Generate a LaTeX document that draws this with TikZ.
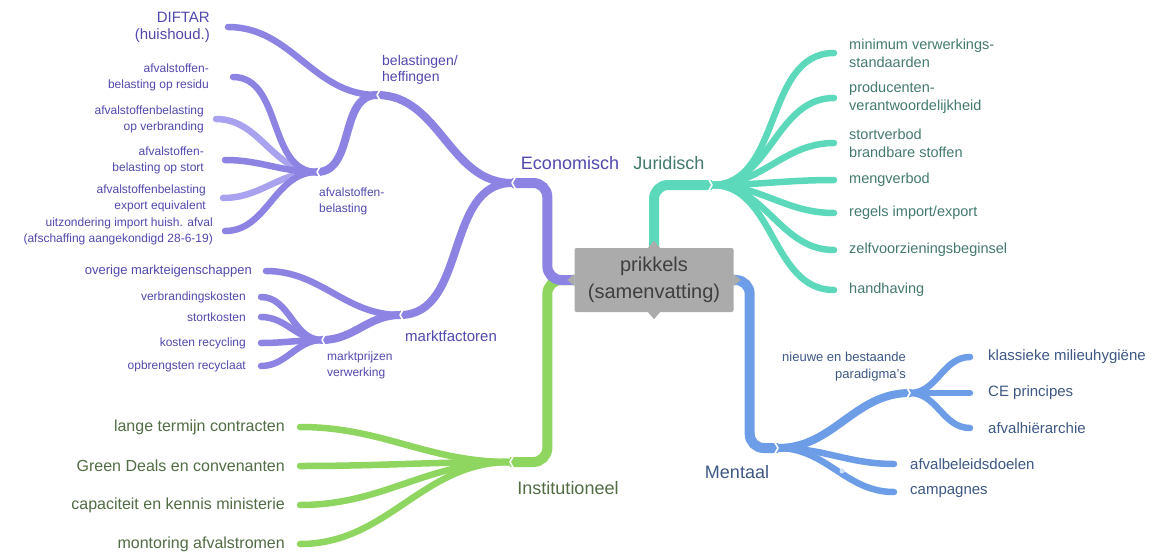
\documentclass[tikz,border=0pt]{standalone}
\usepackage{fontspec}
\setmainfont{Liberation Sans}
\usetikzlibrary{positioning}
\definecolor{ecoline}{HTML}{8C83E3}
\definecolor{ecolight}{HTML}{A9A3EF}
\definecolor{ecotext}{HTML}{5249AE}
\definecolor{jurline}{HTML}{5CD8BA}
\definecolor{jurtext}{HTML}{437A70}
\definecolor{mentline}{HTML}{6E9DE7}
\definecolor{menttext}{HTML}{3E5884}
\definecolor{instline}{HTML}{8FD660}
\definecolor{insttext}{HTML}{526C44}
\definecolor{boxfill}{HTML}{ABABAB}
\definecolor{boxtext}{HTML}{3F3F3F}
\tikzset{
  trunk/.style={line width=10pt,line cap=butt,rounded corners=14pt},
  twig/.style={line width=8pt,line cap=round},
  leaf/.style={line width=6.5pt,line cap=round},
  notch/.style={white,line width=1.6pt,line cap=round,line join=round},
  lt/.style={inner sep=0pt,align=right},
  rt/.style={inner sep=0pt,align=left},
  fsbox/.style={font=\fontsize{20}{27}\selectfont},
  fsmain/.style={font=\fontsize{18}{21}\selectfont},
  fsmid/.style={font=\fontsize{14}{16}\selectfont},
  fssmall/.style={font=\fontsize{12}{16}\selectfont},
  fsdiftar/.style={font=\fontsize{15}{17}\selectfont},
  fsjur/.style={font=\fontsize{14.5}{18}\selectfont},
  fsinst/.style={font=\fontsize{16}{19}\selectfont},
  fsment/.style={font=\fontsize{15}{18}\selectfont},
  fspara/.style={font=\fontsize{13}{17}\selectfont}
}
\begin{document}
\begin{tikzpicture}[x=1pt,y=-1pt]
\useasboundingbox (0,0) rectangle (1156,554);
\fill[white] (0,0) rectangle (1156,554);

% centre
\node[fill=boxfill,text=boxtext,fsbox,align=center,inner sep=0pt,
  minimum width=159pt,minimum height=64pt,rounded corners=2pt] (prikkels) at (654,280) {prikkels\\(samenvatting)};

% junctions
\coordinate (econ) at (512,183);
\coordinate (jur) at (712,185);
\coordinate (ment) at (778,448);
\coordinate (inst) at (510,462);
\coordinate (belast) at (377,95);
\coordinate (markt) at (400,315);
\coordinate (afv) at (317,172);
\coordinate (mprijs) at (322,340);
\coordinate (para) at (910,393);

% leaf ends
\coordinate (c-diftar) at (228,27);
\coordinate (c-residu) at (233,77);
\coordinate (c-verbr) at (216,119);
\coordinate (c-stort) at (225,160);
\coordinate (c-export) at (223,198);
\coordinate (c-uitz) at (225,231);
\coordinate (c-overige) at (266,271);
\coordinate (c-vbk) at (261,297);
\coordinate (c-stk) at (261,317);
\coordinate (c-krec) at (261,343);
\coordinate (c-opbr) at (261,366);
\coordinate (c-lange) at (300,427);
\coordinate (c-green) at (300,466);
\coordinate (c-capac) at (300,505);
\coordinate (c-monit) at (300,544);
\coordinate (c-minimum) at (834,53);
\coordinate (c-produc) at (834,98);
\coordinate (c-stortv) at (834,143);
\coordinate (c-meng) at (834,180);
\coordinate (c-regels) at (834,213);
\coordinate (c-zelf) at (834,250);
\coordinate (c-handh) at (834,290);
\coordinate (c-klass) at (970,357);
\coordinate (c-ce) at (970,393);
\coordinate (c-hier) at (970,428);
\coordinate (c-beleid) at (894,464);
\coordinate (c-camp) at (894,492);

% trunks
\draw[trunk,instline] (prikkels.west) -- ++(-27,0) |- (inst);
\draw[trunk,ecoline] (prikkels.west) -- ++(-27,0) |- (econ);
\draw[trunk,jurline] (prikkels.north) |- (jur);
\draw[trunk,mentline] (prikkels.east) -- ++(16,0) |- (ment);

% economisch
\draw[twig,ecoline] (econ) to[out=180,in=0] (belast);
\draw[twig,ecoline] (econ) to[out=180,in=0] (markt);
\draw[twig,ecoline] (belast) to[out=180,in=0] (afv);
\draw[twig,ecoline] (markt) to[out=180,in=0] (mprijs);
\draw[leaf,ecoline] (belast) to[out=180,in=0] (c-diftar);
\draw[leaf,ecolight] (afv) to[out=180,in=0] (c-verbr);
\draw[leaf,ecolight] (afv) to[out=180,in=0] (c-export);
\foreach \l in {c-residu,c-stort,c-uitz}
  \draw[leaf,ecoline] (afv) to[out=180,in=0] (\l);
\draw[leaf,ecoline] (markt) to[out=180,in=0] (c-overige);
\foreach \l in {c-vbk,c-stk,c-krec,c-opbr}
  \draw[leaf,ecoline] (mprijs) to[out=180,in=0] (\l);

% institutioneel
\foreach \l in {c-lange,c-green,c-capac,c-monit}
  \draw[leaf,instline] (inst) to[out=180,in=0] (\l);

% juridisch
\foreach \l in {c-minimum,c-produc,c-stortv,c-meng,c-regels,c-zelf,c-handh}
  \draw[leaf,jurline] (jur) to[out=0,in=180] (\l);

% mentaal
\draw[twig,mentline] (ment) to[out=0,in=180] (para);
\draw[leaf,mentline] (ment) to[out=0,in=180] (c-beleid);
\draw[leaf,mentline] (ment) to[out=0,in=180] (c-camp);
\foreach \l in {c-klass,c-ce,c-hier}
  \draw[leaf,mentline] (para) to[out=0,in=180] (\l);
\fill[white!65!mentline] (842,471) circle (2.5pt);

% notches
\fill[boxfill] (prikkels.north) ++(-6,0) -- ++(6,-7) -- ++(6,7) -- cycle;
\fill[boxfill] (prikkels.south) ++(-6,0) -- ++(6,7) -- ++(6,-7) -- cycle;
\fill[boxfill] (prikkels.west) ++(0,-6) -- ++(-7,6) -- ++(7,6) -- cycle;
\fill[boxfill] (prikkels.east) ++(0,-6) -- ++(7,6) -- ++(-7,6) -- cycle;
\foreach \j in {econ,belast,afv,markt,mprijs,inst}
  \draw[notch] (\j) ++(4,-7) -- ++(-4,7) -- ++(4,7);
\foreach \j in {jur,ment,para}
  \draw[notch] (\j) ++(-4,-7) -- ++(4,7) -- ++(-4,7);

% main labels
\node[fsmain,text=ecotext,inner sep=0pt] (economisch) at (570,163) {Economisch};
\node[fsmain,text=jurtext,inner sep=0pt] (juridisch) at (669,163) {Juridisch};
\node[fsmain,text=menttext,inner sep=0pt] (mentaal) at (737,472) {Mentaal};
\node[fsmain,text=insttext,inner sep=0pt] (institutioneel) at (568,488) {Institutioneel};
\node[rt,fsmid,text=ecotext,anchor=west] (belastingen) at (382,70) {belastingen/\\heffingen};
\node[rt,fssmall,text=ecotext,anchor=west] (afvalstoffen) at (319,201) {afvalstoffen-\\belasting};
\node[rt,font=\fontsize{15}{17}\selectfont,text=ecotext,anchor=west] (marktfactoren) at (405,336) {marktfactoren};
\node[rt,fssmall,text=ecotext,anchor=west] (marktprijzen) at (327,365) {marktprijzen\\verwerking};
\node[lt,fspara,text=menttext,anchor=east] (paradigma) at (906,367) {nieuwe en bestaande\\paradigma's};

% economisch leaves
\node[lt,fsdiftar,text=ecotext,left=18pt of c-diftar] (diftar) {DIFTAR\\(huishoud.)};
\node[lt,fssmall,text=ecotext,left=24pt of c-residu] (residu) {afvalstoffen-\\belasting op residu};
\node[lt,fssmall,text=ecotext,left=12pt of c-verbr] (verbr) {afvalstoffenbelasting\\op verbranding};
\node[lt,fssmall,text=ecotext,left=21pt of c-stort] (stort) {afvalstoffen-\\belasting op stort};
\node[lt,fssmall,text=ecotext,left=17pt of c-export] (export) {afvalstoffenbelasting\\export equivalent};
\node[lt,fssmall,text=ecotext,left=12pt of c-uitz] (uitz) {uitzondering import huish. afval\\(afschaffing aangekondigd 28-6-19)};
\node[lt,font=\fontsize{13}{16}\selectfont,text=ecotext,left=14pt of c-overige] (overige) {overige markteigenschappen};
\node[lt,fssmall,text=ecotext,left=15pt of c-vbk] (vbk) {verbrandingskosten};
\node[lt,fssmall,text=ecotext,left=15pt of c-stk] (stk) {stortkosten};
\node[lt,fssmall,text=ecotext,left=15pt of c-krec] (krec) {kosten recycling};
\node[lt,fssmall,text=ecotext,left=15pt of c-opbr] (opbr) {opbrengsten recyclaat};

% institutioneel leaves
\node[lt,fsinst,text=insttext,left=15pt of c-lange] (lange) {lange termijn contracten};
\node[lt,fsinst,text=insttext,left=15pt of c-green] (green) {Green Deals en convenanten};
\node[lt,fsinst,text=insttext,left=15pt of c-capac] (capac) {capaciteit en kennis ministerie};
\node[lt,fsinst,text=insttext,left=15pt of c-monit] (monit) {montoring afvalstromen};

% juridisch leaves
\node[rt,fsjur,text=jurtext,right=15pt of c-minimum] (minimum) {minimum verwerkings-\\standaarden};
\node[rt,fsjur,text=jurtext,right=15pt of c-produc] (produc) {producenten-\\verantwoordelijkheid};
\node[rt,fsjur,text=jurtext,right=15pt of c-stortv] (stortv) {stortverbod\\brandbare stoffen};
\node[rt,fsjur,text=jurtext,right=15pt of c-meng] (meng) {mengverbod};
\node[rt,fsjur,text=jurtext,right=15pt of c-regels] (regels) {regels import/export};
\node[rt,fsjur,text=jurtext,right=15pt of c-zelf] (zelf) {zelfvoorzieningsbeginsel};
\node[rt,fsjur,text=jurtext,right=15pt of c-handh] (handh) {handhaving};

% mentaal leaves
\node[rt,fsment,text=menttext,right=18pt of c-klass] (klass) {klassieke milieuhygiëne};
\node[rt,fsment,text=menttext,right=18pt of c-ce] (ce) {CE principes};
\node[rt,fsment,text=menttext,right=18pt of c-hier] (hier) {afvalhiërarchie};
\node[rt,fsment,text=menttext,right=16pt of c-beleid] (beleid) {afvalbeleidsdoelen};
\node[rt,fsment,text=menttext,right=16pt of c-camp] (camp) {campagnes};
\end{tikzpicture}
\end{document}
